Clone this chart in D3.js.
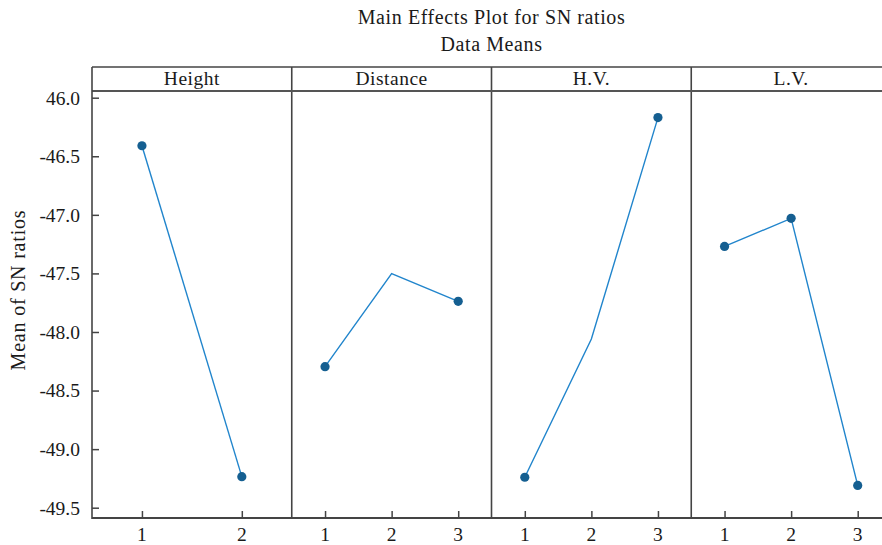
<!DOCTYPE html>
<html><head><meta charset="utf-8">
<script src="https://cdn.jsdelivr.net/npm/d3@7"></script>
<style>body{margin:0;background:#fff}svg{display:block}</style>
</head><body><svg id="c" width="882" height="545" font-family="'Liberation Serif', 'Times New Roman', Times, 'DejaVu Serif', serif"></svg>
<script>
const factors = ["Height", "Distance", "H.V.", "L.V."];
const levels = [["1","2"], ["1","2","3"], ["1","2","3"], ["1","2","3"]];
const heightMeans = [-46.41, -49.235];
const distanceMeans = [-48.296, -47.502, -47.738];
const hvMeans = [-49.24, -48.06, -46.17];
const lvMeans = [-47.27, -47.03, -49.31];
const markerShown = [[true,true],[true,false,true],[true,false,true],[true,true,true]];
const yTicks = [-46.0, -46.5, -47.0, -47.5, -48.0, -48.5, -49.0, -49.5];
const yTickLabels = ["46.0", "-46.5", "-47.0", "-47.5", "-48.0", "-48.5", "-49.0", "-49.5"];
const means = [heightMeans, distanceMeans, hvMeans, lvMeans];

const svg = d3.select("#c");
const L = 92, R = 891, frameTop = 67, stripB = 91, bottom = 518;
const frame = "#444";
const ink = "#1a1a1a";
const fs = 19.5;
const y = d3.scaleLinear().domain([-46.0, -49.5]).range([97.7, 507.7]);
const panels = d3.scaleBand().domain(factors).range([L, R]).padding(0);

svg.append("text").attr("x", (L+R)/2).attr("y", 24).attr("text-anchor","middle").attr("font-size", 20).attr("fill", ink).attr("letter-spacing", 0.6).text("Main Effects Plot for SN ratios");
svg.append("text").attr("x", (L+R)/2).attr("y", 51).attr("text-anchor","middle").attr("font-size", 20).attr("fill", ink).attr("letter-spacing", 0.6).text("Data Means");
svg.append("text").attr("transform", `translate(25,290) rotate(-90)`).attr("text-anchor","middle").attr("font-size", 20).attr("fill", ink).attr("letter-spacing", 0.8).text("Mean of SN ratios");

// y axis
const yAxis = svg.append("g").attr("transform", `translate(${L},0)`)
  .call(d3.axisRight(y).tickValues(yTicks).tickSize(7).tickFormat(""));
yAxis.attr("font-family", null);
yAxis.select(".domain").remove();
yAxis.selectAll("line").attr("stroke", frame).attr("stroke-width", 1.5);
svg.selectAll(".ylab").data(yTicks).enter().append("text")
  .attr("x", 80).attr("y", d => y(d)).attr("dy", "0.35em").attr("text-anchor","end").attr("font-size", fs).attr("fill", ink)
  .text((d,i) => yTickLabels[i]);

factors.forEach((f, i) => {
  const x0 = panels(f), w = panels.bandwidth();
  const x = d3.scalePoint().domain(levels[i]).range([x0, x0 + w]).padding(0.5);
  const g = svg.append("g");
  const xa = g.append("g").attr("transform", `translate(0,${bottom})`)
    .call(d3.axisTop(x).tickSize(7).tickFormat(""));
  xa.select(".domain").remove();
  xa.selectAll("line").attr("stroke", frame).attr("stroke-width", 1.5);
  g.selectAll(".xl").data(levels[i]).enter().append("text")
    .attr("x", d => x(d)).attr("y", 541).attr("text-anchor","middle").attr("font-size", fs).attr("fill", ink).text(d => d);
  const pts = levels[i].map((l, j) => ({l, v: means[i][j], m: markerShown[i][j]}));
  g.append("path").datum(pts)
    .attr("d", d3.line().x(d => x(d.l)).y(d => y(d.v)))
    .attr("fill","none").attr("stroke","#2185cc").attr("stroke-width",1.4);
  g.selectAll("circle").data(pts.filter(d => d.m)).enter().append("circle")
    .attr("cx", d => x(d.l)).attr("cy", d => y(d.v)).attr("r", 4.6).attr("fill","#155f91");
  g.append("text").attr("x", x0 + w/2).attr("y", 85).attr("text-anchor","middle").attr("font-size", fs).attr("fill", ink).attr("letter-spacing", 0.5).text(f);
  if (i > 0) svg.append("line").attr("x1", x0).attr("x2", x0).attr("y1", frameTop).attr("y2", bottom).attr("stroke", frame).attr("stroke-width", 1.6);
});

// frame
svg.append("line").attr("x1", L).attr("x2", R).attr("y1", frameTop).attr("y2", frameTop).attr("stroke", frame).attr("stroke-width", 1.6);
svg.append("line").attr("x1", L).attr("x2", R).attr("y1", stripB).attr("y2", stripB).attr("stroke", "#555").attr("stroke-width", 2.2);
svg.append("line").attr("x1", L).attr("x2", R).attr("y1", bottom).attr("y2", bottom).attr("stroke", frame).attr("stroke-width", 2);
svg.append("line").attr("x1", L).attr("x2", L).attr("y1", frameTop).attr("y2", bottom+1).attr("stroke", frame).attr("stroke-width", 1.6);
</script></body></html>
